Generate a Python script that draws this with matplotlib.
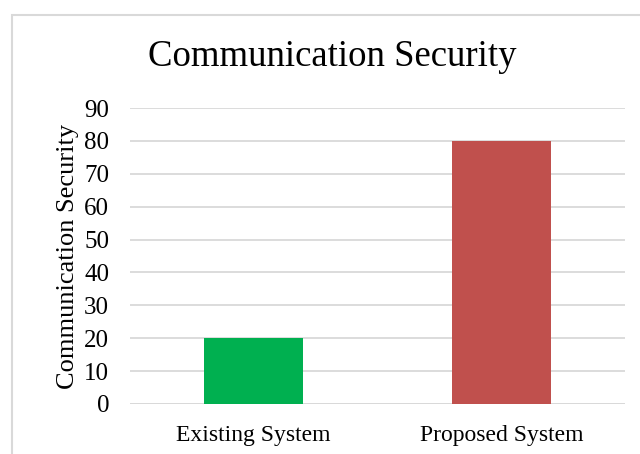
import matplotlib.pyplot as plt
from matplotlib.patches import Rectangle

plt.rcParams['font.family'] = ['Liberation Serif', 'DejaVu Serif']

systems = ['Existing System', 'Proposed System']
security = [20, 80]
bar_colors = ['#00B050', '#C0504D']
y_ticks = list(range(0, 100, 10))

W, H = 640, 454
fig = plt.figure(figsize=(W / 100, H / 100), dpi=100)

# chart border (runs off the right and bottom edges)
fig.patches.append(Rectangle((12 / W, -0.1), 1.2, 1 - 15 / H + 0.1,
                             transform=fig.transFigure, fill=False,
                             edgecolor='#D9D9D9', linewidth=1.5))

ax = fig.add_axes([130 / W, 1 - 404 / H, 495 / W, 296 / H])
ax.bar(range(len(systems)), security, width=0.4, color=bar_colors, zorder=3)
ax.set_xlim(-0.5, 1.5)
ax.set_ylim(0, 90)
ax.set_yticks(y_ticks)
ax.yaxis.grid(True, color='#D9D9D9', linewidth=1.3, zorder=0)
ax.set_xticks(range(len(systems)))
ax.set_xticklabels(systems, fontsize=17)
ax.tick_params(axis='y', labelsize=18, length=0, pad=15)
ax.tick_params(axis='x', length=0, pad=15)
for s in ax.spines.values():
    s.set_visible(False)
ax.axhline(0, color='#D9D9D9', linewidth=1.3, zorder=2)
ax.set_ylabel('Communication Security', fontsize=19, labelpad=4)

fig.text(332 / W, 1 - 57 / H, 'Communication Security', fontsize=26.5,
         ha='center', va='center')

fig.savefig('out.png', dpi=100)
